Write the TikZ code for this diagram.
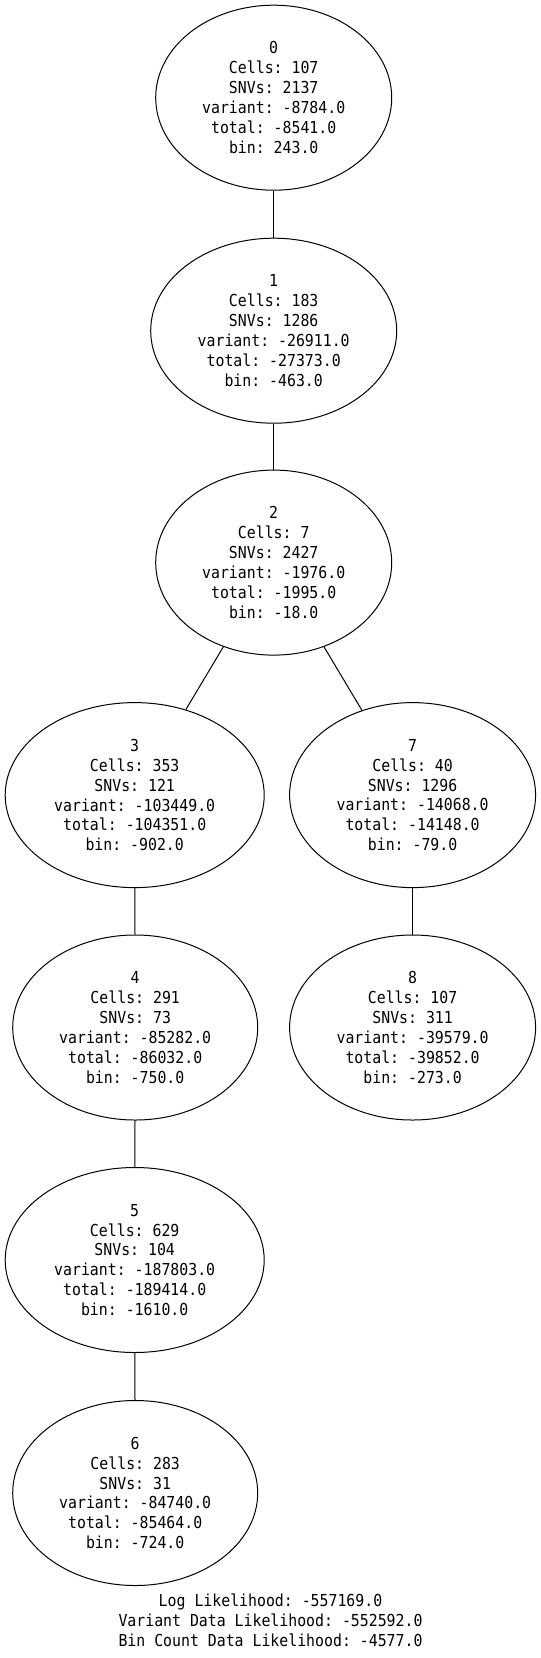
\documentclass[tikz,border=0pt]{standalone}
\usepackage{fontspec}
\setmonofont[FakeStretch=0.9]{DejaVu Sans Mono}
\usetikzlibrary{shapes.geometric}
\begin{document}
\begin{tikzpicture}[x=1pt,y=-1pt,thick,
    cell/.style={ellipse,draw,line width=1pt,inner sep=0pt,align=center,minimum height=185pt},
    every node/.style={font=\ttfamily\fontsize{16.5}{19.9}\selectfont}]
    \useasboundingbox (0,0) rectangle (541,1658);
    \node[cell, minimum width=236pt] (n0) at (273.7,97.7) {0\\Cells: 107\\SNVs: 2137\\variant: -8784.0\\total: -8541.0\\bin: 243.0};
    \node[cell, minimum width=246pt] (n1) at (273.7,330.7) {1\\Cells: 183\\SNVs: 1286\\variant: -26911.0\\total: -27373.0\\bin: -463.0};
    \node[cell, minimum width=236pt] (n2) at (273.7,562.6) {2\\Cells: 7\\SNVs: 2427\\variant: -1976.0\\total: -1995.0\\bin: -18.0};
    \node[cell, minimum width=259pt] (n3) at (134.7,795.1) {3\\Cells: 353\\SNVs: 121\\variant: -103449.0\\total: -104351.0\\bin: -902.0};
    \node[cell, minimum width=246pt] (n7) at (412.6,795.1) {7\\Cells: 40\\SNVs: 1296\\variant: -14068.0\\total: -14148.0\\bin: -79.0};
    \node[cell, minimum width=245pt] (n4) at (135.2,1027.5) {4\\Cells: 291\\SNVs: 73\\variant: -85282.0\\total: -86032.0\\bin: -750.0};
    \node[cell, minimum width=246pt] (n8) at (412.6,1027.5) {8\\Cells: 107\\SNVs: 311\\variant: -39579.0\\total: -39852.0\\bin: -273.0};
    \node[cell, minimum width=259pt] (n5) at (134.7,1260) {5\\Cells: 629\\SNVs: 104\\variant: -187803.0\\total: -189414.0\\bin: -1610.0};
    \node[cell, minimum width=245pt] (n6) at (135.2,1493) {6\\Cells: 283\\SNVs: 31\\variant: -84740.0\\total: -85464.0\\bin: -724.0};
    \path[draw,line width=1pt]%
      (n0) edge (n1)
      (n1) edge (n2)
      (n2) edge (n3)
      (n2) edge (n7)
      (n3) edge (n4)
      (n4) edge (n5)
      (n5) edge (n6)
      (n7) edge (n8);
   \node[align=center] (llh) at (270.5,1620) {Log Likelihood: -557169.0\\Variant Data Likelihood: -552592.0\\Bin Count Data Likelihood: -4577.0};
\end{tikzpicture}
\end{document}
